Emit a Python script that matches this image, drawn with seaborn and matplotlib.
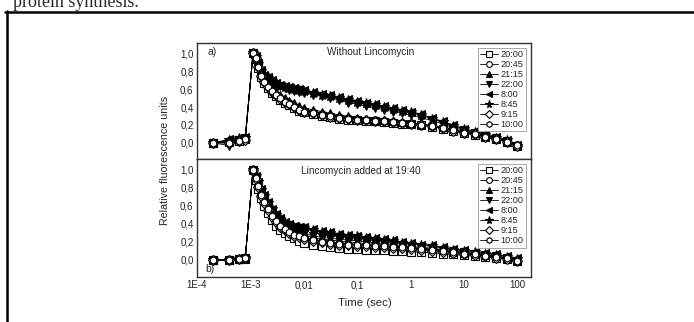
import numpy as np
import pandas as pd
import seaborn as sns
import matplotlib.pyplot as plt
from matplotlib.lines import Line2D
from matplotlib.ticker import FixedLocator, FuncFormatter, LogLocator, NullFormatter

sns.set_style("white")
plt.rcParams['font.family'] = ['Liberation Sans', 'DejaVu Sans']

# time axis (s), shared by every series
time_s = [2e-4, 4e-4, 6e-4, 8e-4, 1.12e-3, 1.25e-3, 1.4e-3, 1.6e-3, 1.8e-3, 2.1e-3,
          2.5e-3, 3e-3, 3.6e-3, 4.4e-3, 5.3e-3, 6.5e-3, 8e-3, 0.01, 0.0147, 0.0215,
          0.0316, 0.0464, 0.0681, 0.1, 0.147, 0.215, 0.316, 0.464, 0.681, 1.0,
          1.58, 2.51, 3.98, 6.31, 10, 15.8, 25.1, 39.8, 63.1, 100]

labels = ["20:00", "20:45", "21:15", "22:00", "8:00", "8:45", "9:15", "10:00"]
markers = ["s", "o", "^", "v", "<", "*", "D", "h"]
filled = [False, False, True, True, True, True, False, False]

# a) without lincomycin
a_2000 = [0.0, 0.01, 0.02, 0.04, 1.0, 0.94, 0.84, 0.74, 0.67, 0.61, 0.56, 0.52, 0.48, 0.45, 0.42, 0.39, 0.36, 0.34, 0.32, 0.30,
          0.285, 0.27, 0.26, 0.25, 0.245, 0.24, 0.23, 0.225, 0.215, 0.21, 0.195, 0.18, 0.16, 0.13, 0.11, 0.09, 0.065, 0.04, 0.01, -0.03]
a_2045 = [0.0, 0.02, 0.03, 0.04, 1.0, 0.95, 0.86, 0.76, 0.69, 0.63, 0.58, 0.54, 0.50, 0.47, 0.44, 0.41, 0.38, 0.36, 0.34, 0.32,
          0.30, 0.285, 0.275, 0.265, 0.255, 0.25, 0.245, 0.235, 0.225, 0.22, 0.205, 0.19, 0.17, 0.14, 0.12, 0.10, 0.075, 0.05, 0.02, -0.02]
a_2115 = [0.0, 0.02, 0.04, 0.05, 1.0, 0.96, 0.87, 0.78, 0.71, 0.66, 0.61, 0.57, 0.53, 0.50, 0.47, 0.44, 0.41, 0.39, 0.37, 0.35,
          0.33, 0.31, 0.295, 0.28, 0.27, 0.26, 0.25, 0.24, 0.23, 0.225, 0.21, 0.195, 0.175, 0.15, 0.13, 0.105, 0.08, 0.055, 0.025, -0.02]
a_2200 = [0.0, -0.03, 0.03, 0.05, 1.0, 0.96, 0.88, 0.80, 0.75, 0.71, 0.68, 0.65, 0.63, 0.61, 0.59, 0.58, 0.57, 0.56, 0.54, 0.52,
          0.50, 0.48, 0.45, 0.43, 0.41, 0.39, 0.37, 0.35, 0.33, 0.31, 0.28, 0.25, 0.21, 0.17, 0.14, 0.11, 0.08, 0.05, 0.02, -0.04]
a_800 = [0.0, 0.04, 0.06, 0.07, 1.0, 0.97, 0.89, 0.81, 0.76, 0.73, 0.70, 0.67, 0.65, 0.63, 0.62, 0.61, 0.60, 0.59, 0.57, 0.55,
         0.53, 0.51, 0.49, 0.47, 0.45, 0.43, 0.41, 0.39, 0.37, 0.35, 0.32, 0.28, 0.24, 0.20, 0.16, 0.13, 0.10, 0.07, 0.03, -0.02]
a_845 = [0.0, 0.03, 0.05, 0.06, 1.0, 0.96, 0.88, 0.80, 0.76, 0.72, 0.69, 0.66, 0.64, 0.62, 0.61, 0.60, 0.59, 0.58, 0.56, 0.54,
         0.52, 0.50, 0.48, 0.46, 0.44, 0.42, 0.40, 0.38, 0.36, 0.34, 0.31, 0.27, 0.23, 0.19, 0.15, 0.12, 0.09, 0.06, 0.03, -0.03]
a_915 = [0.0, 0.0, 0.02, 0.03, 1.0, 0.95, 0.85, 0.75, 0.68, 0.62, 0.57, 0.53, 0.49, 0.46, 0.43, 0.40, 0.37, 0.35, 0.33, 0.31,
         0.29, 0.28, 0.27, 0.26, 0.25, 0.245, 0.24, 0.23, 0.22, 0.215, 0.20, 0.185, 0.165, 0.135, 0.115, 0.095, 0.07, 0.045, 0.015, -0.03]
a_1000 = [0.0, 0.0, 0.02, 0.04, 1.0, 0.95, 0.85, 0.75, 0.68, 0.62, 0.58, 0.53, 0.50, 0.46, 0.43, 0.40, 0.37, 0.35, 0.33, 0.31,
          0.295, 0.28, 0.27, 0.26, 0.25, 0.245, 0.24, 0.23, 0.225, 0.215, 0.20, 0.185, 0.165, 0.14, 0.115, 0.095, 0.07, 0.045, 0.015, -0.025]

# b) lincomycin added at 19:40
b_2000 = [0.0, 0.0, 0.01, 0.01, 1.0, 0.89, 0.79, 0.69, 0.60, 0.52, 0.44, 0.38, 0.33, 0.30, 0.27, 0.24, 0.21, 0.19, 0.17, 0.155,
          0.14, 0.13, 0.125, 0.12, 0.115, 0.11, 0.105, 0.10, 0.095, 0.09, 0.085, 0.08, 0.07, 0.06, 0.05, 0.04, 0.03, 0.02, 0.01, -0.01]
b_2045 = [0.0, 0.0, 0.01, 0.02, 1.0, 0.91, 0.82, 0.73, 0.65, 0.57, 0.50, 0.44, 0.39, 0.35, 0.32, 0.29, 0.27, 0.25, 0.23, 0.21,
          0.20, 0.19, 0.18, 0.17, 0.165, 0.16, 0.15, 0.145, 0.14, 0.13, 0.12, 0.11, 0.10, 0.08, 0.07, 0.06, 0.045, 0.03, 0.02, 0.0]
b_2115 = [0.0, 0.0, 0.01, 0.02, 1.0, 0.92, 0.84, 0.75, 0.67, 0.59, 0.52, 0.46, 0.41, 0.37, 0.34, 0.31, 0.29, 0.27, 0.25, 0.23,
          0.22, 0.21, 0.20, 0.19, 0.18, 0.175, 0.17, 0.16, 0.15, 0.14, 0.13, 0.12, 0.11, 0.09, 0.08, 0.07, 0.055, 0.04, 0.025, 0.0]
b_2200 = [0.0, 0.0, 0.01, 0.02, 1.0, 0.92, 0.85, 0.76, 0.68, 0.60, 0.53, 0.47, 0.42, 0.38, 0.35, 0.33, 0.31, 0.29, 0.27, 0.25,
          0.24, 0.23, 0.22, 0.21, 0.20, 0.19, 0.18, 0.17, 0.16, 0.15, 0.14, 0.13, 0.115, 0.10, 0.085, 0.07, 0.055, 0.04, 0.02, -0.01]
b_800 = [0.0, 0.0, 0.01, 0.02, 1.0, 0.93, 0.87, 0.79, 0.72, 0.64, 0.57, 0.51, 0.46, 0.42, 0.40, 0.38, 0.37, 0.36, 0.34, 0.32,
         0.31, 0.29, 0.28, 0.27, 0.25, 0.24, 0.23, 0.22, 0.20, 0.19, 0.17, 0.16, 0.14, 0.12, 0.11, 0.09, 0.08, 0.06, 0.04, 0.02]
b_845 = [0.0, 0.0, 0.01, 0.02, 1.0, 0.93, 0.86, 0.78, 0.71, 0.63, 0.56, 0.50, 0.45, 0.41, 0.39, 0.37, 0.36, 0.35, 0.33, 0.31,
         0.30, 0.28, 0.27, 0.26, 0.24, 0.23, 0.22, 0.21, 0.19, 0.18, 0.165, 0.15, 0.13, 0.115, 0.10, 0.085, 0.07, 0.055, 0.035, 0.01]
b_915 = [0.0, 0.0, 0.01, 0.02, 1.0, 0.90, 0.81, 0.71, 0.63, 0.55, 0.48, 0.42, 0.37, 0.33, 0.30, 0.27, 0.25, 0.23, 0.21, 0.195,
         0.18, 0.17, 0.16, 0.155, 0.15, 0.145, 0.14, 0.135, 0.13, 0.12, 0.11, 0.10, 0.09, 0.075, 0.06, 0.05, 0.04, 0.025, 0.01, -0.01]
b_1000 = [0.0, 0.0, 0.01, 0.02, 1.0, 0.91, 0.82, 0.72, 0.64, 0.56, 0.49, 0.43, 0.38, 0.34, 0.31, 0.28, 0.26, 0.24, 0.22, 0.20,
          0.19, 0.18, 0.17, 0.165, 0.16, 0.155, 0.15, 0.145, 0.14, 0.13, 0.12, 0.115, 0.10, 0.085, 0.07, 0.06, 0.045, 0.03, 0.02, -0.01]

panel_a = [a_2000, a_2045, a_2115, a_2200, a_800, a_845, a_915, a_1000]
panel_b = [b_2000, b_2045, b_2115, b_2200, b_800, b_845, b_915, b_1000]

fig = plt.figure(figsize=(6.94, 3.22), dpi=100)
L, R = 197 / 694, 531 / 694
ax_a = fig.add_axes([L, 1 - 159 / 322, R - L, (159 - 43) / 322])
ax_b = fig.add_axes([L, 1 - 277 / 322, R - L, (277 - 159) / 322])

comma = FuncFormatter(lambda v, p: f"{v:.1f}".replace(".", ","))
def xfmt(v, p):
    names = {1e-4: "1E-4", 1e-3: "1E-3", 1e-2: "0,01", 1e-1: "0,1", 1: "1", 10: "10", 100: "100"}
    for k, s in names.items():
        if abs(np.log10(v) - np.log10(k)) < 1e-6:
            return s
    return ""

for ax, series, ylim in [(ax_a, panel_a, (-0.18, 1.115)), (ax_b, panel_b, (-0.19, 1.12))]:
    for vals, lab, m, f in zip(series, labels, markers, filled):
        df = pd.DataFrame({"t": time_s, "v": vals})
        ms = 7.2 if m == "*" else (4.6 if m == "D" else 5.2)
        sns.lineplot(data=df, x="t", y="v", ax=ax, color="black", lw=0.6,
                     marker=m, markersize=ms, markeredgewidth=0.8,
                     markeredgecolor="black", markerfacecolor="black" if f else "white",
                     label=lab, legend=False)
    ax.set_xscale("log")
    ax.set_xlim(1e-4, 180)
    ax.set_ylim(*ylim)
    ax.set_xlabel("")
    ax.set_ylabel("")
    ax.yaxis.set_major_locator(FixedLocator([0, 0.2, 0.4, 0.6, 0.8, 1.0]))
    ax.yaxis.set_minor_locator(FixedLocator([-0.1, 0.1, 0.3, 0.5, 0.7, 0.9]))
    ax.yaxis.set_major_formatter(comma)
    ax.xaxis.set_major_locator(LogLocator(base=10, numticks=12))
    ax.xaxis.set_minor_locator(LogLocator(base=10, subs=np.arange(2, 10), numticks=12))
    ax.xaxis.set_minor_formatter(NullFormatter())
    ax.tick_params(which="both", direction="in", top=False, right=False,
                   labelsize=7, colors="#222222", width=0.7, pad=2.5)
    ax.tick_params(which="major", length=3.5)
    ax.tick_params(which="minor", length=2)
    for sp in ax.spines.values():
        sp.set_linewidth(1.0)
        sp.set_color("#333333")
    leg = ax.legend(loc="upper right", fontsize=6.6, frameon=True, fancybox=False,
                    handlelength=1.9, handletextpad=0.3, labelspacing=0.1,
                    borderpad=0.3, borderaxespad=0.5, framealpha=1, markerscale=0.8)
    leg.get_frame().set_edgecolor("#999999")
    leg.get_frame().set_linewidth(0.6)

ax_a.xaxis.set_major_formatter(NullFormatter())
ax_b.xaxis.set_major_formatter(FuncFormatter(xfmt))

ax_a.text(0.03, 0.92, "a)", transform=ax_a.transAxes, fontsize=7.5, va="center")
ax_a.text(0.52, 0.92, "Without Lincomycin", transform=ax_a.transAxes, fontsize=7.2, ha="center", va="center")
ax_b.text(0.49, 0.9, "Lincomycin added at 19:40", transform=ax_b.transAxes, fontsize=7.2, ha="center", va="center")
ax_b.text(0.025, 0.07, "b)", transform=ax_b.transAxes, fontsize=7.5, va="center")

fig.text(165 / 694, 1 - 160 / 322, "Relative fluorescence units", rotation=90,
         fontsize=7.7, ha="center", va="center")
fig.text(365 / 694, 1 - 303 / 322, "Time (sec)", fontsize=8.2, ha="center", va="center")

# page elements from the scanned document
fig.text(13 / 694, 1 - 7 / 322, "protein synthesis.", family="Liberation Serif",
         fontsize=13, va="baseline", ha="left")
fig.add_artist(Line2D([5 / 694, 1.0], [1 - 12 / 322, 1 - 12 / 322], color="black", lw=1.8,
                      transform=fig.transFigure))
fig.add_artist(Line2D([7 / 694, 7 / 694], [1 - 11 / 322, 0.0], color="black", lw=1.8,
                      transform=fig.transFigure))

fig.savefig("out.png", dpi=100)
